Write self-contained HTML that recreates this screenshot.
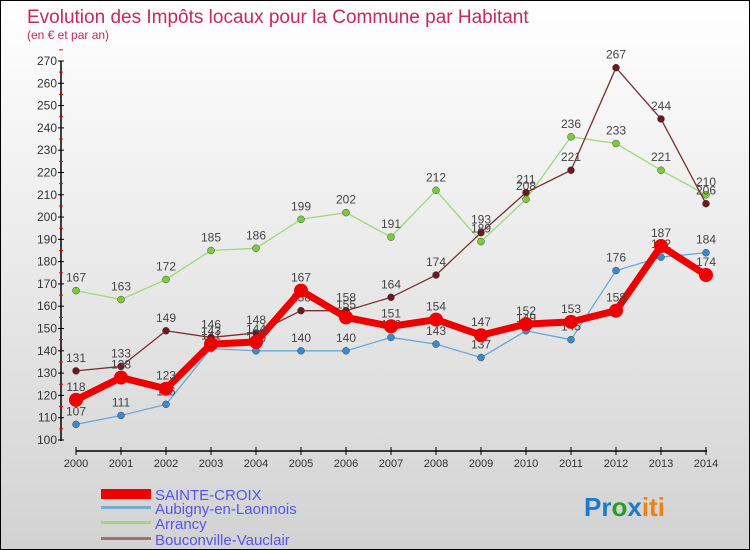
<!DOCTYPE html>
<html><head><meta charset="utf-8"><style>
body{margin:0}
#c{width:748px;height:548px;border:1px solid #000;background:linear-gradient(#fff,#d2d2d2);position:relative;font-family:"Liberation Sans",sans-serif;overflow:hidden}
svg{position:absolute;left:0;top:0}
</style></head><body>
<div id="c">
<svg id="s" width="748" height="548">
<text x="26" y="22" font-size="19" fill="#c8285a">Evolution des Impôts locaux pour la Commune par Habitant</text>
<text x="26" y="38" font-size="12" fill="#c8285a">(en € et par an)</text>
<g id="g"></g>
<g>
<rect x="100" y="488" width="50" height="10" fill="#e00"/>
<text x="154" y="499" font-size="15" fill="#5555ee">SAINTE-CROIX</text>
<rect x="100" y="505" width="50" height="3" fill="#7aaad0"/>
<text x="154" y="513" font-size="15" fill="#5555ee">Aubigny-en-Laonnois</text>
<rect x="100" y="520" width="50" height="3" fill="#9ed87a"/>
<text x="154" y="528" font-size="15" fill="#5555ee">Arrancy</text>
<rect x="100" y="536" width="50" height="3" fill="#a07070"/>
<text x="154" y="544" font-size="15" fill="#5555ee">Bouconville-Vauclair</text>
</g>
<text x="583" y="515" font-size="26" font-weight="bold"><tspan fill="#1a7ad0">Pr</tspan><tspan fill="#2a9a2a">o</tspan><tspan fill="#1a7ad0">x</tspan><tspan fill="#f08010">iti</tspan></text>
</svg>
</div>
<script>
const years=[2000,2001,2002,2003,2004,2005,2006,2007,2008,2009,2010,2011,2012,2013,2014];
const yTicks=[100,110,120,130,140,150,160,170,180,190,200,210,220,230,240,250,260,270];
const sainteCroix=[118,128,123,143,144,167,155,151,154,147,152,153,158,187,174];
const aubigny=[107,111,116,141,140,140,140,146,143,137,149,145,176,182,184];
const arrancy=[167,163,172,185,186,199,202,191,212,189,208,236,233,221,210];
const bouconville=[131,133,149,146,148,158,158,164,174,193,211,221,267,244,206];
const NS="http://www.w3.org/2000/svg";
const g=document.getElementById('g');
const X=i=>75+i*45;
const Y=v=>439-(v-100)*(379/170);
function mk(t,a,p){const e=document.createElementNS(NS,t);for(const k in a)e.setAttribute(k,a[k]);(p||g).appendChild(e);return e;}
// axes
const ax=mk('line',{x1:60,y1:60,x2:60,y2:440,stroke:'#000','stroke-width':1.5});


const xx=mk('line',{x1:75,y1:450,x2:706,y2:450,stroke:'#000','stroke-width':1.5});


yTicks.forEach(v=>{
 mk('line',{x1:57,x2:63,y1:Y(v),y2:Y(v),stroke:'#000'});
 mk('line',{x1:58,x2:62,y1:Y(v+5),y2:Y(v+5),stroke:'#e00'});
 const t=mk('text',{x:56,y:Y(v)+4,'font-size':12,fill:'#333','text-anchor':'end'});t.textContent=v;
 
 
});
years.forEach((y,i)=>{
 mk('line',{x1:X(i),x2:X(i),y1:446,y2:454,stroke:'#000'});
 const t=mk('text',{x:X(i),y:466,'font-size':11,fill:'#333','text-anchor':'middle'});t.textContent=y;
 
 
});
function series(d,col,dot,w,r,name){
 const pl=mk('polyline',{points:d.map((v,i)=>X(i)+','+Y(v)).join(' '),fill:'none',stroke:col,'stroke-width':w,'stroke-linejoin':'round'});
 
 
 d.forEach((v,i)=>{
  const c=mk('circle',{cx:X(i),cy:Y(v),r:r,fill:dot,stroke:w>3?'none':'#444','stroke-width':0.5});
  
  
  const t=mk('text',{x:X(i),y:Y(v)-9,'font-size':12,fill:'#444','text-anchor':'middle'});t.textContent=v;
  
  
 });
}
series(aubigny,'#6aa6d8','#3a8ad0',1.3,3.5,'aubigny');
series(arrancy,'#9ed87a','#7ccc3a',1.3,3.5,'arrancy');
series(bouconville,'#7a3030','#6a1a1a',1.3,3.5,'bouconville');
series(sainteCroix,'#ee0000','#ee0000',7,7,'sainte-croix');
</script>
</body></html>
